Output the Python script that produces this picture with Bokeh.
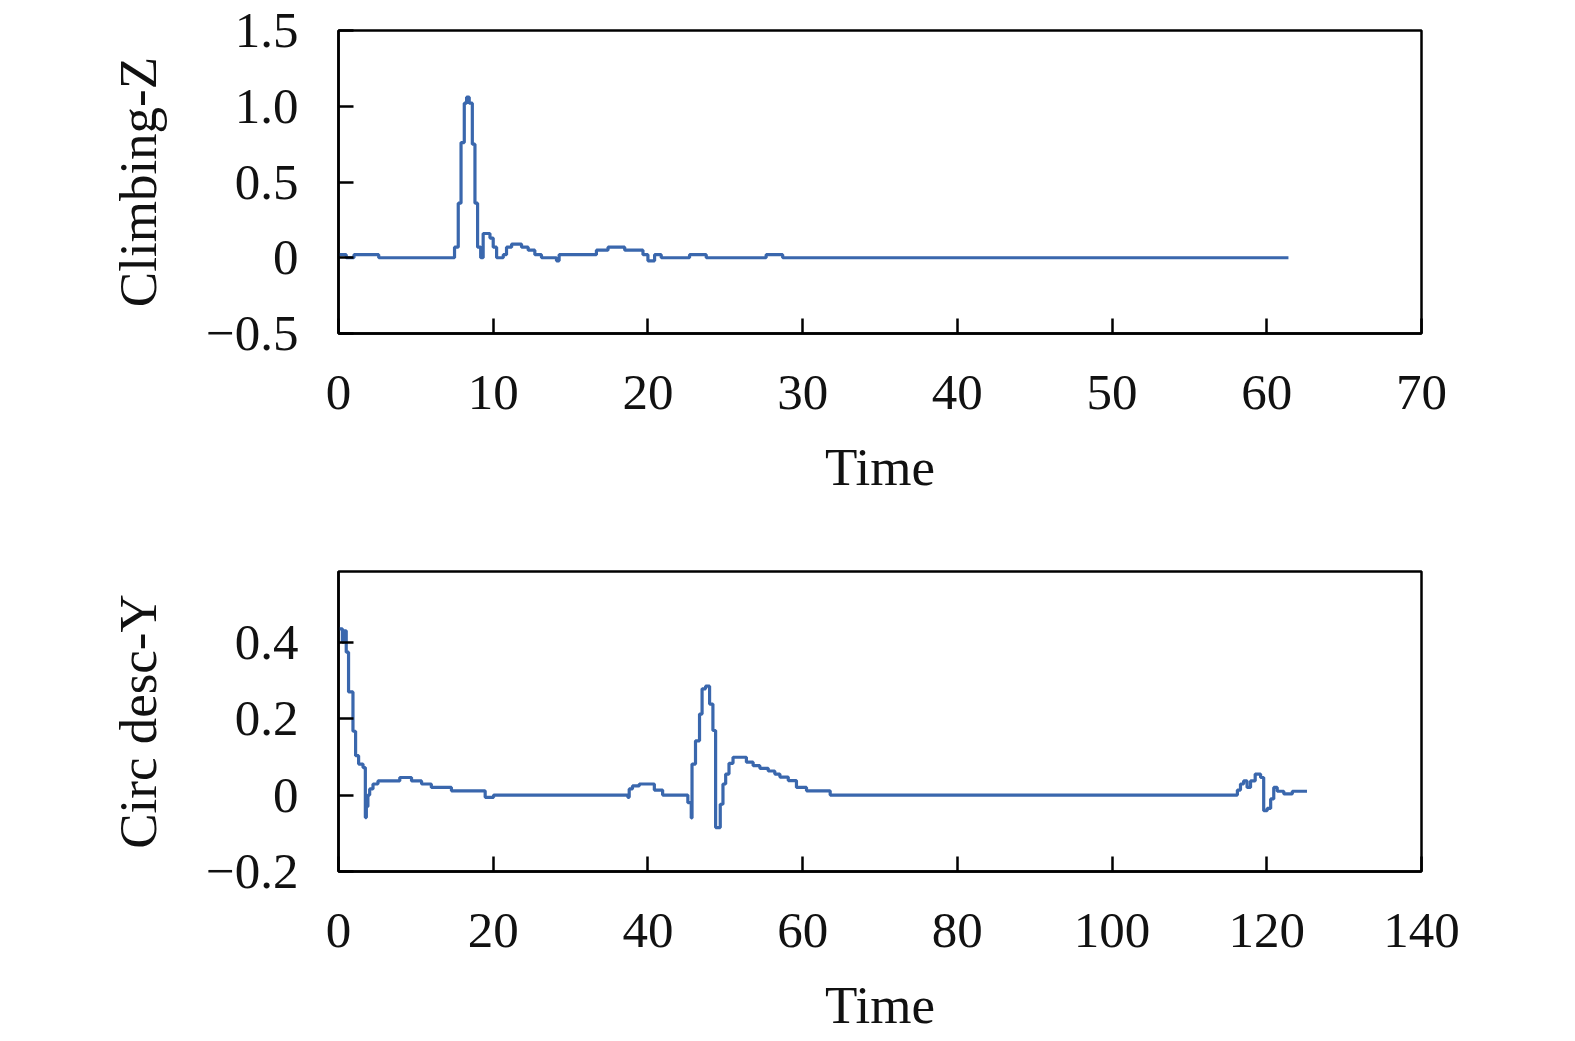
from bokeh.plotting import figure
from bokeh.layouts import column
from bokeh.models import FixedTicker, CustomJSTickFormatter, Range1d
from bokeh.embed import file_html
from bokeh.resources import INLINE

# Climbing-Z (step signal)
climb_t = [0, 0.5, 1.0, 2.6, 7.5, 7.74, 7.92, 8.13, 8.28, 8.45, 8.65, 8.82, 8.99,
           9.19, 9.35, 9.79, 10.0, 10.22, 10.65, 10.86, 11.19, 11.83, 12.26, 12.69,
           13.12, 14.09, 14.26, 16.67, 17.42, 18.5, 19.68, 20.0, 20.43, 20.86, 22.69,
           23.77, 27.64, 28.71, 61.4]
climb_v = [0.02, 0, 0.02, 0, 0.07, 0.36, 0.76, 1.02, 1.06, 1.02, 0.75, 0.36, 0.07,
           0, 0.16, 0.13, 0.07, 0, 0.02, 0.07, 0.09, 0.07, 0.05, 0.02,
           0, -0.02, 0.02, 0.05, 0.07, 0.05, 0.02, -0.02, 0.02, 0, 0.02,
           0, 0.02, 0, 0]

# Circ desc-Y
circ_t = [0, 0.5, 0.7, 1.0, 1.3, 1.87, 2.21, 2.6, 3.17, 3.47, 3.6, 3.8, 4.03, 4.46,
          5.1, 7.92, 9.44, 10.74, 12.0, 14.6, 18.96, 20.05, 37.4, 37.58, 38.0, 38.88,
          40.83, 41.9, 45.16, 45.6, 45.7, 46.15, 46.67, 47.0, 47.45, 47.97, 48.4,
          48.75, 49.35, 49.7, 50.05, 50.48, 51.0, 52.73, 53.6, 54.47, 55.55, 56.4,
          57.06, 58.14, 59.2, 60.5, 63.56, 116.2, 116.6, 117.0, 117.45, 117.9, 118.5,
          119.2, 119.6, 120.05, 120.5, 120.9, 121.35, 122.2, 123.3, 125.2]
circ_v = [0.435, 0.40, 0.43, 0.374, 0.27, 0.167, 0.103, 0.081, 0.072, -0.059, -0.03,
          0.0, 0.016, 0.029, 0.037, 0.046, 0.037, 0.029, 0.02, 0.011, -0.006, 0,
          -0.006, 0.016, 0.024, 0.029, 0.013, 0, -0.02, -0.06, 0.081, 0.142, 0.212,
          0.278, 0.285, 0.238, 0.169, -0.085, -0.024, 0.029, 0.055, 0.083, 0.099,
          0.086, 0.077, 0.07, 0.063, 0.055, 0.047, 0.038, 0.02, 0.011, 0, 0.013,
          0.029, 0.037, 0.02, 0.037, 0.055, 0.046, -0.041, -0.035, -0.01, 0.02, 0.01,
          0.003, 0.01, 0.01]

top_xticks = [0, 10, 20, 30, 40, 50, 60, 70]
top_yticks = [-0.5, 0, 0.5, 1.0, 1.5]
bot_xticks = [0, 20, 40, 60, 80, 100, 120, 140]
bot_yticks = [-0.2, 0, 0.2, 0.4]

FONT = "Liberation Serif"
LINE = "#3a67ad"

yfmt = CustomJSTickFormatter(code="""
if (Math.abs(tick) < 1e-9) { return '0'; }
return (tick < 0 ? '\u2212' : '') + Math.abs(tick).toFixed(1);
""")


def make_plot(t, v, xr, yr, xticks, yticks, ylabel, top, bottom, fh):
    p = figure(frame_width=1083, frame_height=fh, output_backend="svg",
               toolbar_location=None, x_range=Range1d(*xr), y_range=Range1d(*yr),
               min_border_left=338, min_border_right=120,
               min_border_top=top, min_border_bottom=bottom)
    p.step(t, v, mode="after", line_color=LINE, line_width=3.2)
    p.grid.visible = False
    p.outline_line_color = "black"
    p.outline_line_width = 2.5
    p.outline_line_alpha = 1
    p.xaxis.ticker = FixedTicker(ticks=xticks)
    p.yaxis.ticker = FixedTicker(ticks=yticks)
    p.yaxis.formatter = yfmt
    p.xaxis.axis_label = "Time"
    p.yaxis.axis_label = ylabel
    for ax in (p.xaxis, p.yaxis):
        ax.axis_line_width = 2.5
        ax.major_tick_line_width = 2.5
        ax.major_tick_in = 15
        ax.major_tick_out = 0
        ax.minor_tick_line_color = None
        ax.major_label_text_font = FONT
        ax.major_label_text_font_size = "51px"
        ax.major_label_text_color = "#111111"
        ax.axis_label_text_font = FONT
        ax.axis_label_text_font_size = "53px"
        ax.axis_label_text_font_style = "normal"
        ax.axis_label_text_color = "#111111"
    p.xaxis.major_label_standoff = 42
    p.xaxis.axis_label_standoff = 26
    p.yaxis.major_label_standoff = 40
    p.yaxis.axis_label_standoff = 36
    return p


p1 = make_plot(climb_t, climb_v, (0, 70), (-0.5, 1.5), top_xticks, top_yticks,
               "Climbing-Z", 30, 190, 303)
p2 = make_plot(circ_t, circ_v, (0, 140), (-0.2, 0.585), bot_xticks, bot_yticks,
               "Circ desc-Y", 48, 155, 300)

p = column(p1, p2, spacing=0)
open("out.html", "w").write(file_html(p, INLINE))
